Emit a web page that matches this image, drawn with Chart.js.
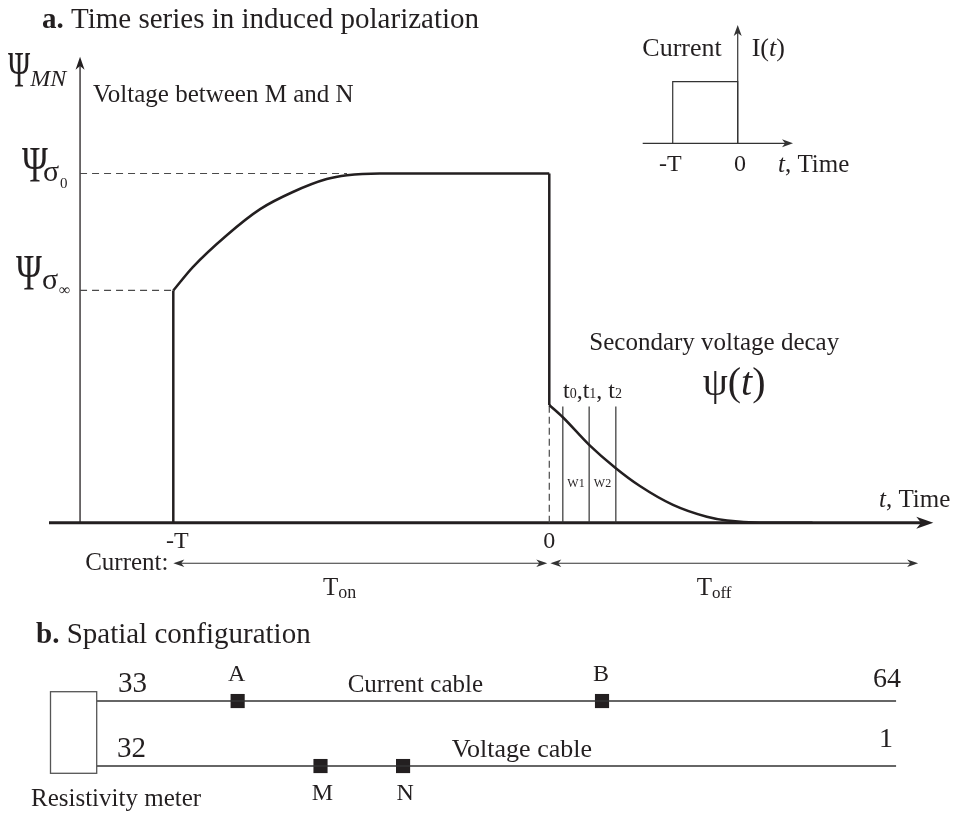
<!DOCTYPE html>
<html>
<head>
<meta charset="utf-8">
<script src="https://cdn.jsdelivr.net/npm/chart.js@4/dist/chart.umd.min.js"></script>
<style>
html,body{margin:0;padding:0;background:#fff;}
#wrap{width:956px;height:814px;position:relative;}
canvas{display:block;}
</style>
</head>
<body>
<div id="wrap"><canvas id="c" width="956" height="814"></canvas></div>
<script>
// ---------------- data ----------------
// a. main time series (time in units where T = 10, voltage with psi_sigma0 = 10)
const riseTime   = [-10, -9.48, -8.57, -7.69, -6.82, -5.92, -5.38, -4.51, -2.0, 0];
const riseVolt   = [6.65, 7.32, 8.24, 8.98, 9.47, 9.84, 9.95, 10.0, 10.0, 10.0];
const decayTime  = [0, 0.36, 1.06, 1.77, 2.41, 3.29, 4.19, 4.73, 5.6, 7.0];
const decayVolt  = [3.37, 3.02, 2.23, 1.56, 1.05, 0.51, 0.17, 0.06, 0.0, 0.0];
const switchTime = [-10, 0];          // current switched on at -T, off at 0
const switchFrom = [0, 10.0];
const switchTo   = [6.65, 3.37];
const levelNames = ['σ0', 'σ∞'];
const levelVolt  = [10.0, 6.65];      // psi_sigma0, psi_sigma_inf
const levelEnd   = [-5.38, -10];      // where each dashed level meets the curve
const gateTimes  = [0.36, 1.06, 1.77];
const gateNames  = ['0', '1', '2'];
const gateTop    = 3.33;
const windowNames = ['W1', 'W2'];
// inset: current pulse
const pulseTime  = [-1, -1, 0, 0];
const pulseAmp   = [0, 1, 1, 0];
// b. spatial configuration (position along a cable of length 100)
const cableRows     = [1, 0];
const cableNames    = ['Current cable', 'Voltage cable'];
const cableFirstNum = ['33', '32'];
const cableLastNum  = ['64', '1'];
const cableLength   = 100;
const electrodeNames = ['A', 'B', 'M', 'N'];
const electrodePos   = [17.6, 63.2, 27.97, 38.3];
const electrodeRow   = [1, 1, 0, 0];

// ---------------- style ----------------
const INK = '#231f20';
const GREY = '#4a4a4a';
const FONT = "'Liberation Serif','Times New Roman',Times,serif";

const pts = (xs, ys) => xs.map((v, i) => ({x: v, y: ys[i]}));

const datasets = [];
// rise curve
datasets.push({data: pts(riseTime, riseVolt), showLine: true, borderColor: INK, borderWidth: 2.5,
  pointRadius: 0, cubicInterpolationMode: 'monotone', xAxisID: 'x', yAxisID: 'y'});
// decay curve
datasets.push({data: pts(decayTime, decayVolt), showLine: true, borderColor: INK, borderWidth: 2.5,
  pointRadius: 0, cubicInterpolationMode: 'monotone', xAxisID: 'x', yAxisID: 'y'});
// switching jumps
switchTime.forEach((t, i) => datasets.push({data: [{x: t, y: switchFrom[i]}, {x: t, y: switchTo[i]}],
  showLine: true, borderColor: INK, borderWidth: 2.5, pointRadius: 0, xAxisID: 'x', yAxisID: 'y'}));
// dashed levels
levelVolt.forEach((v, i) => datasets.push({data: [{x: -12.48, y: v}, {x: levelEnd[i], y: v}],
  showLine: true, borderColor: GREY, borderWidth: 1.2, borderDash: [7, 5], pointRadius: 0, xAxisID: 'x', yAxisID: 'y'}));
// dashed line at switch-off
datasets.push({data: [{x: 0, y: 0}, {x: 0, y: switchTo[1]}], showLine: true, borderColor: GREY,
  borderWidth: 1.2, borderDash: [7, 4], pointRadius: 0, xAxisID: 'x', yAxisID: 'y'});
// gate lines
gateTimes.forEach(t => datasets.push({data: [{x: t, y: 0}, {x: t, y: gateTop}], showLine: true,
  borderColor: '#333', borderWidth: 1.2, pointRadius: 0, xAxisID: 'x', yAxisID: 'y'}));
// inset current pulse
datasets.push({data: pts(pulseTime, pulseAmp), showLine: true, borderColor: '#333', borderWidth: 1.2,
  pointRadius: 0, xAxisID: 'xi', yAxisID: 'yi'});
// cables
cableRows.forEach(r => datasets.push({data: [{x: 0, y: r}, {x: cableLength, y: r}], showLine: true,
  borderColor: '#333', borderWidth: 1.4, pointRadius: 0, xAxisID: 'xb', yAxisID: 'yb'}));
// electrodes
datasets.push({data: pts(electrodePos, electrodeRow), showLine: false, pointStyle: 'rect', pointRadius: 10,
  pointBorderWidth: 0, backgroundColor: INK, borderColor: INK, xAxisID: 'xb', yAxisID: 'yb'});

// ---------------- drawing helpers ----------------
function fontStr(size, style) { return (style ? style + ' ' : '') + size + 'px ' + FONT; }
function runsWidth(ctx, parts) {
  let w = 0;
  for (const p of parts) { ctx.font = fontStr(p[1], p[2]); w += ctx.measureText(p[0]).width * (p[4] || 1); }
  return w;
}
function drawRuns(ctx, x, y, parts, align) {
  if (align === 'center') x -= runsWidth(ctx, parts) / 2;
  if (align === 'right') x -= runsWidth(ctx, parts);
  let cx = x;
  for (const p of parts) {
    const [t, size, style, dy, sx] = p;
    ctx.font = fontStr(size, style);
    ctx.save(); ctx.translate(cx, y + (dy || 0)); ctx.scale(sx || 1, 1); ctx.fillText(t, 0, 0); ctx.restore();
    cx += ctx.measureText(t).width * (sx || 1);
  }
}
function arrowHead(ctx, tx, ty, dx, dy, L, W) {
  const bx = tx - dx * L, by = ty - dy * L, nx = -dy, ny = dx;
  ctx.beginPath();
  ctx.moveTo(tx, ty);
  ctx.lineTo(bx + nx * W, by + ny * W);
  ctx.lineTo(tx - dx * L * 0.72, ty - dy * L * 0.72);
  ctx.lineTo(bx - nx * W, by - ny * W);
  ctx.closePath(); ctx.fill();
}
function seg(ctx, x1, y1, x2, y2, w) {
  ctx.lineWidth = w; ctx.beginPath(); ctx.moveTo(x1, y1); ctx.lineTo(x2, y2); ctx.stroke();
}

const diagram = {
  id: 'diagram',
  beforeDatasetsDraw(chart) {
    const {ctx, scales} = chart;
    const {x, y, xi, yi} = scales;
    ctx.save();
    ctx.strokeStyle = INK; ctx.fillStyle = INK;
    // main time axis
    const y0 = y.getPixelForValue(0);
    seg(ctx, 49, y0, 933 - 10, y0, 3);
    arrowHead(ctx, 933.3, y0, 1, 0, 17, 6);
    // main voltage axis
    const ax = x.getPixelForValue(-12.48);
    seg(ctx, ax, y0, ax, 57 + 8, 1.3);
    arrowHead(ctx, ax, 56.7, 0, -1, 13, 4.5);
    // inset axes
    const iy0 = yi.getPixelForValue(0), ix0 = xi.getPixelForValue(0);
    ctx.strokeStyle = '#333'; ctx.fillStyle = '#333';
    seg(ctx, 642.7, iy0, 793 - 7, iy0, 1.2);
    arrowHead(ctx, 793, iy0, 1, 0, 11, 4);
    seg(ctx, ix0, iy0, ix0, 25 + 7, 1.2);
    arrowHead(ctx, ix0, 25, 0, -1, 11, 4);
    ctx.restore();
  },
  afterDatasetsDraw(chart) {
    const {ctx, scales} = chart;
    const {x, y, xb, yb} = scales;
    ctx.save();
    ctx.fillStyle = INK; ctx.strokeStyle = '#333';
    ctx.textBaseline = 'alphabetic'; ctx.textAlign = 'left';

    // On / off span arrows
    const ry = 563.3;
    const pT = x.getPixelForValue(switchTime[0]), p0 = x.getPixelForValue(switchTime[1]);
    const pEnd = x.getPixelForValue(9.81);
    ctx.fillStyle = '#333';
    seg(ctx, pT + 4, ry, p0 - 5, ry, 1.1);
    seg(ctx, p0 + 5, ry, pEnd - 4, ry, 1.1);
    arrowHead(ctx, pT, ry, -1, 0, 11, 3.8);
    arrowHead(ctx, p0 - 2, ry, 1, 0, 11, 3.8);
    arrowHead(ctx, p0 + 1, ry, -1, 0, 11, 3.8);
    arrowHead(ctx, pEnd, ry, 1, 0, 11, 3.8);

    // resistivity meter box
    ctx.strokeStyle = '#555'; ctx.lineWidth = 1.3;
    ctx.strokeRect(50.5, 691.7, 46.2, 81.6);

    ctx.fillStyle = INK;
    // ---- part a texts ----
    drawRuns(ctx, 42, 28, [['a.', 29, 'bold'], [' Time series in induced polarization', 29]]);
    drawRuns(ctx, 8, 86, [['Ψ', 50, '', 0, 0.6], ['MN', 24, 'italic']]);
    drawRuns(ctx, 93, 102, [['Voltage between M and N', 25]]);
    // level labels
    const lvY = levelVolt.map(v => y.getPixelForValue(v));
    drawRuns(ctx, 22, lvY[0] + 8, [['Ψ', 50, '', 0, 0.7]]);
    drawRuns(ctx, 43, lvY[0] + 8, [[levelNames[0][0], 30]]);
    drawRuns(ctx, 60, lvY[0] + 15, [[levelNames[0][1], 15]]);
    drawRuns(ctx, 16, lvY[1] - 1, [['Ψ', 50, '', 0, 0.7]]);
    drawRuns(ctx, 42, lvY[1] - 1, [[levelNames[1][0], 30]]);
    drawRuns(ctx, 59, lvY[1] + 5, [[levelNames[1][1], 16]]);

    drawRuns(ctx, x.getPixelForValue(switchTime[0]) + 4, 548, [['-T', 24]], 'center');
    drawRuns(ctx, x.getPixelForValue(switchTime[1]), 548, [['0', 24]], 'center');
    drawRuns(ctx, 168.5, 570, [['Current:', 25]], 'right');
    drawRuns(ctx, 323, 595, [['T', 25], ['on', 18, '', 3]]);
    drawRuns(ctx, 696.7, 595, [['T', 25], ['off', 17, '', 3]]);
    drawRuns(ctx, 879, 507, [['t', 25, 'italic'], [', Time', 25]]);
    drawRuns(ctx, 589.3, 350, [['Secondary voltage decay', 25]]);
    drawRuns(ctx, 702.7, 395, [['ψ', 40], ['(', 40], ['t', 40, 'italic'], [')', 40]]);
    // gate labels
    drawRuns(ctx, 563, 398, [['t', 24], [gateNames[0], 14], [',', 24], ['t', 24], [gateNames[1], 14],
      [', ', 24], ['t', 24], [gateNames[2], 14]]);
    // window labels
    for (let i = 0; i < windowNames.length; i++) {
      const cx = (x.getPixelForValue(gateTimes[i]) + x.getPixelForValue(gateTimes[i + 1])) / 2;
      drawRuns(ctx, cx, 487, [[windowNames[i], 12]], 'center');
    }
    // ---- inset texts ----
    drawRuns(ctx, 642.3, 56, [['Current', 26]]);
    drawRuns(ctx, 751.7, 56, [['I(', 26], ['t', 26, 'italic'], [')', 26]]);
    drawRuns(ctx, 659, 171, [['-T', 24]]);
    drawRuns(ctx, 734, 171, [['0', 24]]);
    drawRuns(ctx, 778, 172, [['t', 25, 'italic'], [', Time', 25]]);

    // ---- part b texts ----
    drawRuns(ctx, 36, 643, [['b.', 29, 'bold'], [' Spatial configuration', 29]]);
    drawRuns(ctx, 118, 692, [[cableFirstNum[0], 29]]);
    drawRuns(ctx, 117, 757, [[cableFirstNum[1], 29]]);
    drawRuns(ctx, 901, 687, [[cableLastNum[0], 28]], 'right');
    drawRuns(ctx, 893, 747, [[cableLastNum[1], 28]], 'right');
    drawRuns(ctx, 347.7, 692, [[cableNames[0], 25]]);
    drawRuns(ctx, 451.7, 757, [[cableNames[1], 26]]);
    drawRuns(ctx, 31, 806, [['Resistivity meter', 25]]);
    electrodeNames.forEach((n, i) => {
      const px = xb.getPixelForValue(electrodePos[i]) + (electrodeRow[i] ? -1 : 2);
      const py = electrodeRow[i] ? yb.getPixelForValue(electrodeRow[i]) - 20 : yb.getPixelForValue(electrodeRow[i]) + 34;
      drawRuns(ctx, px, py, [[n, 24]], 'center');
    });
    ctx.restore();
  }
};

new Chart(document.getElementById('c'), {
  type: 'scatter',
  data: {datasets},
  options: {
    responsive: false,
    animation: false,
    events: [],
    layout: {padding: 0, autoPadding: false},
    plugins: {legend: {display: false}, tooltip: {enabled: false}, title: {display: false}},
    scales: {
      x:  {type: 'linear', display: false, min: -14.609, max: 10.817},
      y:  {type: 'linear', display: false, min: -8.342, max: 14.968},
      xi: {type: 'linear', display: false, min: -11.349, max: 3.358},
      yi: {type: 'linear', display: false, min: -10.888, max: 2.326},
      xb: {type: 'linear', display: false, min: -12.14, max: 107.5},
      yb: {type: 'linear', display: false, min: -0.738, max: 11.785}
    }
  },
  plugins: [diagram]
});
</script>
</body>
</html>
